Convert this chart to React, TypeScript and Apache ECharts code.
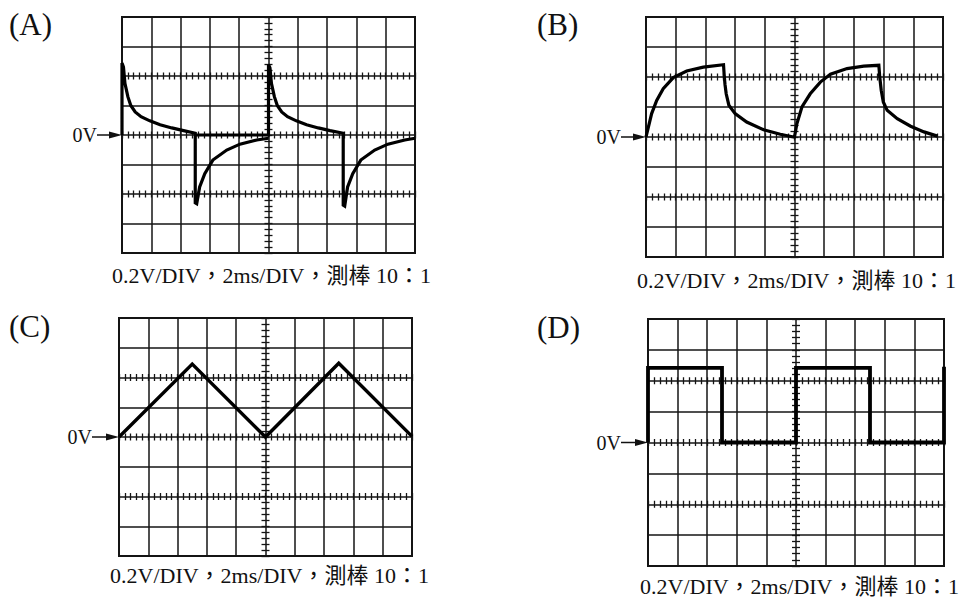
import React, { useEffect, useRef } from "react";
import * as echarts from "echarts";

// Units: time in ms (2 ms/DIV), voltage in mV (0.2 V/DIV)
const TIME_MIN = 0;
const TIME_MAX = 20;
const TIME_DIV = 2;
const VOLT_MIN = -800;
const VOLT_MAX = 800;
const VOLT_DIV = 200;
const MINOR_PER_DIV = 5;
const TICKED_LEVELS = [400, 0, -400];
const TICKED_TIME = 10;

const panelNames = ["(A)", "(B)", "(C)", "(D)"];
const zeroLabel = "0V";
const captionText = "0.2V/DIV，2ms/DIV，測棒 10：1";

// (A) differentiated square wave: [ms, mV]
const traceA1: number[][] = [
  [0, 0], [0, 488], [0.1, 460], [0.2, 350], [0.4, 260], [0.6, 200], [0.9, 156],
  [1.3, 124], [1.9, 96], [2.6, 70], [3.4, 48], [4.2, 30], [5, 12],
  [5, -460], [5.1, -466], [5.3, -352], [5.65, -262], [6.2, -170], [7.15, -102],
  [8.05, -62], [9.2, -34], [10, -22],
];
const traceA2: number[][] = [
  [5, 0], [10, 0], [10, 478], [10.1, 455], [10.2, 350], [10.4, 260], [10.6, 200],
  [10.9, 156], [11.3, 124], [11.9, 96], [12.6, 70], [13.4, 48], [14.2, 30], [15.1, 12],
  [15.1, -476], [15.2, -482], [15.4, -352], [15.75, -262], [16.3, -170], [17.25, -102],
  [18.15, -62], [19.3, -34], [20, -22],
];
// (B) integrated square wave
const traceB: number[][] = [
  [0, 0], [0.16, 66], [0.38, 156], [0.72, 244], [1.16, 322], [1.84, 396], [2.74, 440],
  [3.86, 466], [5.22, 482], [5.26, 420], [5.32, 350], [5.4, 288], [5.58, 212], [6, 156],
  [6.78, 100], [7.92, 48], [9.04, 18], [9.94, 0],
  [10, 0], [10.16, 88], [10.5, 200], [11.06, 288], [11.74, 366], [12.42, 418],
  [13.54, 456], [14.66, 472], [15.68, 478], [15.74, 400], [15.84, 312], [15.98, 234],
  [16.24, 178], [16.92, 122], [17.82, 72], [18.72, 34], [19.62, 6],
];
// (C) triangle wave
const traceC: number[][] = [[0, 0], [5, 490], [10, 0], [15, 496], [20, 4]];
// (D) square wave
const traceD: number[][] = [
  [0, 0], [0, 484], [5, 484], [5, 0], [10, 0], [10, 484], [15, 484], [15, 0], [20, 0], [20, 490],
];

const panelTraces = [[traceA1, traceA2], [traceB], [traceC], [traceD]];

const INK = "#141414";
const SERIF = '"Liberation Serif", "Times New Roman", "Noto Sans CJK TC", serif';
const TRACE_W = [3.2, 3.2, 3.4, 3.8];
const TICK_H = 7;
const TICK_W = 8;

const LAYOUT = [
  { grid: { left: 122, top: 17, width: 293, height: 236 }, name: [9, 24], zeroRight: 97, caption: [112, 275] },
  { grid: { left: 646, top: 17, width: 297, height: 240 }, name: [537, 24], zeroRight: 621, caption: [637, 280] },
  { grid: { left: 119, top: 318, width: 293, height: 238 }, name: [9, 326], zeroRight: 92, caption: [110, 575] },
  { grid: { left: 648, top: 319, width: 296, height: 247 }, name: [537, 327], zeroRight: 621, caption: [640, 586] },
];

function textEl(x: number, y: number, text: string, font: string, align: string, lineHeight?: number) {
  return {
    type: "text",
    x,
    y,
    silent: true,
    style: {
      text,
      font,
      fill: "#111",
      align,
      textAlign: align,
      verticalAlign: "middle",
      textVerticalAlign: "middle",
      ...(lineHeight ? { lineHeight } : {}),
    },
  };
}

function buildOption() {
  const grids: any[] = [];
  const xAxes: any[] = [];
  const yAxes: any[] = [];
  const series: any[] = [];
  const graphic: any[] = [];

  LAYOUT.forEach((L, p) => {
    const g = L.grid;
    grids.push({ ...g, show: true, borderColor: INK, borderWidth: 2, containLabel: false, outerBoundsMode: "none" });
    const gridBottom = g.top + g.height;
    const tickStyle = { color: INK, width: 1.3 };

    const xMain = xAxes.length;
    xAxes.push({
      type: "value", gridIndex: p, position: "bottom", min: TIME_MIN, max: TIME_MAX, interval: TIME_DIV,
      axisLine: { show: false, onZero: false }, axisTick: { show: false }, axisLabel: { show: false },
      splitLine: { show: true, lineStyle: { color: INK, width: 1.5 } },
    });
    TICKED_LEVELS.forEach((v) => {
      const ly = g.top + ((VOLT_MAX - v) / (VOLT_MAX - VOLT_MIN)) * g.height;
      xAxes.push({
        type: "value", gridIndex: p, position: "bottom", offset: ly - TICK_H / 2 - gridBottom,
        min: TIME_MIN, max: TIME_MAX, interval: TIME_DIV,
        axisLine: { show: false, onZero: false },
        axisTick: { show: true, inside: false, length: TICK_H, lineStyle: tickStyle },
        minorTick: { show: true, splitNumber: MINOR_PER_DIV, length: TICK_H, lineStyle: tickStyle },
        axisLabel: { show: false }, splitLine: { show: false }, minorSplitLine: { show: false },
      });
    });

    const yMain = yAxes.length;
    yAxes.push({
      type: "value", gridIndex: p, position: "left", min: VOLT_MIN, max: VOLT_MAX, interval: VOLT_DIV,
      axisLine: { show: false, onZero: false }, axisTick: { show: false }, axisLabel: { show: false },
      splitLine: { show: true, lineStyle: { color: INK, width: 1.5 } },
    });
    const cx = g.left + ((TICKED_TIME - TIME_MIN) / (TIME_MAX - TIME_MIN)) * g.width;
    yAxes.push({
      type: "value", gridIndex: p, position: "left", offset: g.left - (cx + TICK_W / 2),
      min: VOLT_MIN, max: VOLT_MAX, interval: VOLT_DIV,
      axisLine: { show: false, onZero: false },
      axisTick: { show: true, inside: false, length: TICK_W, lineStyle: tickStyle },
      minorTick: { show: true, splitNumber: MINOR_PER_DIV, length: TICK_W, lineStyle: tickStyle },
      axisLabel: { show: false }, splitLine: { show: false }, minorSplitLine: { show: false },
    });

    panelTraces[p].forEach((tr) => {
      series.push({
        type: "line", xAxisIndex: xMain, yAxisIndex: yMain, data: tr,
        symbol: "none", showSymbol: false, clip: false, silent: true, z: 5,
        lineStyle: { color: "#000", width: TRACE_W[p], join: "miter", cap: "butt" },
      });
    });

    // labels
    graphic.push(textEl(L.name[0], L.name[1], panelNames[p], `31px ${SERIF}`, "left"));
    const zy = g.top + ((VOLT_MAX - 0) / (VOLT_MAX - VOLT_MIN)) * g.height;
    graphic.push(textEl(L.zeroRight, zy, zeroLabel, `20px ${SERIF}`, "right"));
    graphic.push({
      type: "line", silent: true,
      shape: { x1: L.zeroRight, y1: zy, x2: g.left - 10, y2: zy },
      style: { stroke: "#111", lineWidth: 1.5 },
    });
    graphic.push({
      type: "polygon", silent: true,
      shape: { points: [[g.left - 13, zy - 3.6], [g.left, zy], [g.left - 13, zy + 3.6]] },
      style: { fill: "#111" },
    });
    graphic.push(textEl(L.caption[0], L.caption[1], captionText, `22px ${SERIF}`, "left", 16));
  });

  return {
    animation: false,
    backgroundColor: "#fff",
    grid: grids,
    xAxis: xAxes,
    yAxis: yAxes,
    series,
    graphic,
  };
}

export default function App() {
  const ref = useRef<HTMLDivElement>(null);
  useEffect(() => {
    if (!ref.current) return;
    const chart = echarts.init(ref.current, null, { renderer: "svg" });
    chart.setOption(buildOption() as any);
    return () => chart.dispose();
  }, []);
  return (
    <div
      ref={ref}
      style={{ position: "fixed", left: 0, top: 0, width: 971, height: 598, background: "#fff" }}
    />
  );
}
